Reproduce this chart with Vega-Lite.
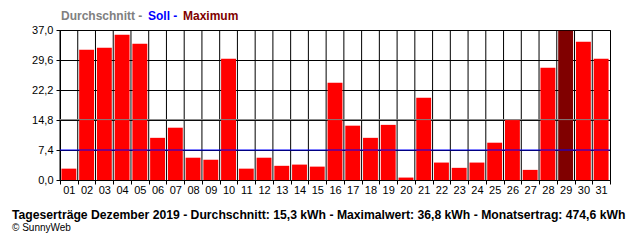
{
  "$schema": "https://vega.github.io/schema/vega-lite/v6.json",
  "width": 550,
  "height": 150,
  "autosize": {"type": "none"},
  "padding": {"left": 60, "top": 30, "right": 30, "bottom": 60},
  "background": "white",
  "config": {"view": {"stroke": "#000", "strokeWidth": 1}, "font": "Liberation Sans"},
  "title": {
    "text": "Tageserträge Dezember 2019 - Durchschnitt: 15,3 kWh - Maximalwert: 36,8 kWh - Monatsertrag: 474,6 kWh",
    "subtitle": "© SunnyWeb",
    "orient": "bottom",
    "anchor": "start",
    "frame": "group",
    "dx": -48,
    "offset": 14,
    "fontSize": 12.2,
    "fontWeight": "bold",
    "color": "#000",
    "font": "Liberation Sans",
    "subtitleFont": "Liberation Sans",
    "subtitleFontSize": 10,
    "subtitleColor": "#000",
    "subtitlePadding": 2
  },
  "datasets": {
    "tage": [
      {"tag": "01", "kwh": 2.8}, {"tag": "02", "kwh": 32.1}, {"tag": "03", "kwh": 32.6},
      {"tag": "04", "kwh": 35.8}, {"tag": "05", "kwh": 33.6}, {"tag": "06", "kwh": 10.4},
      {"tag": "07", "kwh": 12.9}, {"tag": "08", "kwh": 5.5}, {"tag": "09", "kwh": 5.0},
      {"tag": "10", "kwh": 29.9}, {"tag": "11", "kwh": 2.8}, {"tag": "12", "kwh": 5.5},
      {"tag": "13", "kwh": 3.5}, {"tag": "14", "kwh": 3.8}, {"tag": "15", "kwh": 3.3},
      {"tag": "16", "kwh": 24.0}, {"tag": "17", "kwh": 13.4}, {"tag": "18", "kwh": 10.4},
      {"tag": "19", "kwh": 13.6}, {"tag": "20", "kwh": 0.6}, {"tag": "21", "kwh": 20.3},
      {"tag": "22", "kwh": 4.3}, {"tag": "23", "kwh": 3.0}, {"tag": "24", "kwh": 4.3},
      {"tag": "25", "kwh": 9.2}, {"tag": "26", "kwh": 14.9}, {"tag": "27", "kwh": 2.5},
      {"tag": "28", "kwh": 27.7}, {"tag": "29", "kwh": 36.8}, {"tag": "30", "kwh": 34.1},
      {"tag": "31", "kwh": 29.9}
    ]
  },
  "layer": [
    {
      "data": {"name": "tage"},
      "mark": {"type": "rule", "color": "#000", "strokeWidth": 1},
      "encoding": {
        "x": {"field": "tag", "type": "nominal", "sort": null, "bandPosition": 0}
      }
    },
    {
      "data": {"name": "tage"},
      "mark": {"type": "bar", "width": {"band": 0.84}},
      "encoding": {
        "x": {
          "field": "tag", "type": "nominal", "sort": null,
          "scale": {"paddingInner": 0, "paddingOuter": 0},
          "axis": {
            "title": null, "tickBand": "extent", "bandPosition": 0.5, "grid": false,
            "ticks": true, "tickColor": "#000", "tickSize": 4, "labelAngle": 0, "labelPadding": 6,
            "labelAlign": "center",
            "labelFontSize": 11, "labelColor": "#000", "domain": true, "domainColor": "#000"
          }
        },
        "y": {
          "field": "kwh", "type": "quantitative",
          "scale": {"domain": [0, 37], "nice": false},
          "axis": {
            "title": null, "values": [0, 7.4, 14.8, 22.2, 29.6, 37], "tickCount": 12, "labelOverlap": false,
            "labelExpr": "replace(format(datum.value, '.1f'), '.', ',')",
            "grid": true, "gridColor": "#000", "gridOpacity": 1,
            "tickColor": "#000", "tickSize": 4, "labelFontSize": 11, "labelColor": "#000",
            "labelPadding": 3, "domain": true, "domainColor": "#000"
          }
        },
        "color": {"condition": {"test": "datum.kwh >= 36.8", "value": "#800000"}, "value": "#ff0000"}
      }
    },
    {
      "data": {"values": [{"serie": "Durchschnitt", "wert": 14.9}, {"serie": "Soll", "wert": 7.4}]},
      "mark": {"type": "rule", "strokeWidth": 1},
      "encoding": {
        "y": {"field": "wert", "type": "quantitative"},
        "color": {
          "field": "serie", "type": "nominal",
          "scale": {"domain": ["Durchschnitt", "Soll", "Maximum"], "range": ["#808080", "#0000ff", "#800000"]},
          "legend": {
            "title": null, "orient": "none", "legendX": 0, "legendY": -20, "direction": "horizontal",
            "gridAlign": "none", "symbolType": "circle",
            "symbolSize": 0, "symbolOpacity": 0, "symbolStrokeWidth": 0,
            "labelFontSize": 12, "labelFont": "Liberation Sans", "labelFontWeight": "bold",
            "labelOffset": -11, "columnPadding": 4, "padding": 0,
            "labelExpr": "datum.label == 'Maximum' ? datum.label : datum.label + ' -'",
            "encode": {"labels": {"update": {"fill": {"scale": "color", "field": "value"}}}}
          }
        }
      }
    }
  ]
}
